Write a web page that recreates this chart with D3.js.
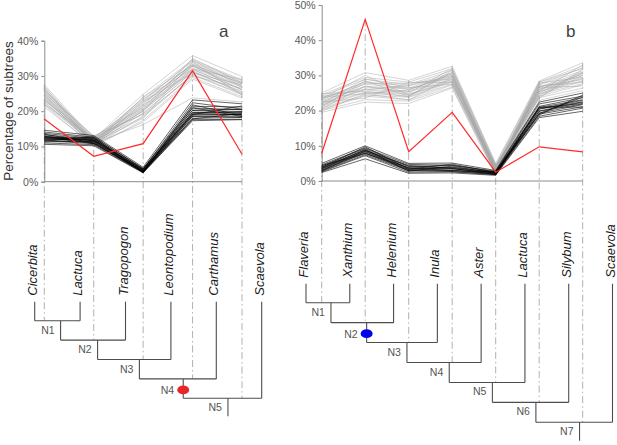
<!DOCTYPE html>
<html><head><meta charset="utf-8">
<script src="https://cdn.jsdelivr.net/npm/d3@7"></script>
<style>body{margin:0;background:#fff}svg{display:block}text{font-family:"Liberation Sans",Arial,sans-serif}</style>
</head><body><svg id="c" width="617" height="445"></svg>
<script>
// ---------- data ----------
const nodesA = ["N1","N2","N3","N4","N5"];
const leavesA = ["Cicerbita","Lactuca","Tragopogon","Leontopodium","Carthamus","Scaevola"];
const ticksA = [0,10,20,30,40];
const redA = [17.8,7.2,10.8,31.5,7.8];
const grayA = [
 [27.5,12.2,24.8,35.8,29.8],[26.9,11.4,23.9,34.6,28.9],[26.3,11.1,23.2,34.2,28.6],
 [25.9,11.7,22.4,33.4,27.8],[25.5,10.8,22.1,33.3,27.7],[25.2,11.4,21.5,32.7,27.3],
 [24.9,10.6,21.3,32.8,26.8],[24.6,11.9,20.7,32.2,26.9],[24.3,10.9,20.6,31.9,26.1],
 [24.0,11.3,20.1,31.8,26.2],[23.6,10.5,19.5,31.2,25.6],[23.2,12.5,19.3,31.1,25.4],
 [22.8,10.2,18.6,30.5,24.9],[22.4,11.6,18.3,30.3,24.7],[21.8,9.9,17.4,29.6,24.1],
 [21.2,10.4,16.9,29.1,23.7],[22.0,11.0,16.2,23.8,22.6],
 [26.0,12.8,21.0,33.0,28.0],[24.0,10.0,22.8,34.5,27.0],[25.0,13.0,19.0,30.0,26.5],
 [23.0,11.8,21.8,33.8,28.2],[26.5,10.3,20.3,31.5,25.0],[22.0,12.0,23.5,32.0,29.0],
 [24.4,11.0,18.0,34.0,24.5],[25.7,12.4,22.8,30.8,27.5],[23.4,10.7,24.0,33.0,26.0],
 [27.0,11.6,20.0,35.0,28.0]
];
const blackA = [
 [14.6,13.1,4.1,23.2,22.1],[14.1,12.6,3.8,21.4,21.2],[13.7,12.3,3.6,20.9,20.4],
 [13.3,12.0,3.4,20.3,20.5],[13.0,11.7,3.3,20.2,19.9],[12.8,11.6,3.2,19.7,19.6],
 [12.6,12.3,3.1,19.6,19.8],[12.4,11.4,3.0,19.3,19.2],[12.2,11.2,2.9,19.2,19.0],
 [12.0,11.9,2.9,18.9,19.1],[11.8,11.0,2.8,18.6,18.6],[11.6,10.8,2.7,18.5,18.3],
 [11.3,11.5,2.7,18.0,18.2],[11.0,10.5,2.6,17.6,17.7],[10.6,10.2,2.5,17.3,17.6],
 [12.5,11.8,3.5,22.4,20.6],
 [13.5,11.0,2.8,21.0,18.5],[11.5,12.8,3.6,19.0,21.5],[12.9,10.8,3.0,17.8,19.4],
 [12.1,12.5,2.6,21.8,18.8]
];

const nodesB = ["N1","N2","N3","N4","N5","N6","N7"];
const leavesB = ["Flaveria","Xanthium","Helenium","Inula","Aster","Lactuca","Silybum","Scaevola"];
const ticksB = [0,10,20,30,40,50];
const redB = [7.9,45.9,8.3,19.5,2.5,9.7,8.3];
const grayB = [
 [25.0,30.8,28.6,32.6,5.0,28.4,33.6],[24.5,29.4,28.1,31.9,4.6,28.1,32.7],
 [24.1,28.9,27.4,31.4,4.3,27.5,32.1],[23.6,27.9,27.1,30.7,4.0,27.3,31.3],
 [23.3,27.5,26.4,30.4,3.8,26.7,30.9],[22.8,26.9,26.1,29.7,3.6,26.6,30.2],
 [22.5,26.7,25.5,29.5,3.4,26.1,29.9],[22.2,26.1,25.3,28.9,3.2,25.9,29.3],
 [21.9,25.9,24.7,28.8,3.0,25.5,29.1],[21.6,25.3,24.6,28.2,2.8,25.4,28.5],
 [21.2,25.1,24.0,28.1,2.6,24.9,28.3],[20.8,24.4,23.8,27.5,2.4,24.7,27.6],
 [20.4,24.1,23.1,27.3,2.2,24.1,27.3],[20.0,23.1,22.7,26.7,2.0,23.7,26.4],
 [19.5,22.4,22.0,26.4,1.6,22.9,25.7],[23.0,28.3,26.0,30.0,3.5,26.0,30.5],
 [24.0,26.0,27.0,30.0,4.0,25.0,31.0],[21.0,28.5,24.0,31.5,3.0,27.0,28.0],
 [22.5,23.5,28.0,28.0,2.5,28.0,32.0],[20.5,27.0,25.0,32.0,4.5,24.0,30.0],
 [23.8,24.8,23.0,29.5,2.0,26.5,27.0],[22.0,29.0,26.5,27.5,3.5,25.5,33.0],
 [24.8,25.5,24.0,31.0,2.8,27.8,29.5],[21.4,27.8,27.8,29.0,4.2,23.5,31.8],
 [20.0,24.8,25.8,30.5,1.8,26.8,28.8],[23.4,30.0,24.4,28.5,3.2,24.4,30.7]
];
const blackB = [
 [5.0,10.0,5.0,5.1,3.0,22.4,25.0],[4.6,9.4,4.7,4.5,2.8,21.9,24.1],
 [4.3,9.2,4.2,4.4,2.6,21.2,23.7],[4.0,8.8,4.1,3.9,2.5,20.9,23.1],
 [3.8,8.7,3.7,3.8,2.4,20.5,22.9],[3.6,8.4,3.6,3.5,2.3,20.4,22.5],
 [3.4,8.3,3.3,3.5,2.2,19.9,22.4],[3.2,8.0,3.2,3.1,2.1,19.8,21.9],
 [3.0,7.9,3.0,3.0,2.0,19.3,21.7],[2.8,7.5,2.9,2.7,1.9,19.0,21.1],
 [2.6,7.2,2.5,2.6,1.8,18.4,20.7],[2.4,6.3,2.2,2.3,1.6,18.0,19.8],
 [3.5,9.0,2.8,4.2,2.2,21.0,21.0],[4.4,7.8,3.8,2.9,2.6,19.2,23.8],
 [2.9,8.6,4.4,3.6,1.8,20.8,22.0],[3.9,9.7,3.4,4.8,2.4,18.8,24.4]
];

// ---------- drawing ----------
const svg = d3.select("#c");
svg.append("rect").attr("width",617).attr("height",445).attr("fill","#fff");

function panel(cfg){
  const g = svg.append("g");
  const x = d3.scalePoint().domain(cfg.nodes).range(cfg.xr);
  const y = d3.scaleLinear().domain([0, d3.max(cfg.ticks)]).range(cfg.yr);
  const leafX = d3.scalePoint().domain(cfg.leaves).range(cfg.leafR);
  const levelY = d3.scalePoint().domain(cfg.nodes).range(cfg.levelR);

  const tree = [];
  cfg.nodes.forEach((n,i)=>{
    const left = i===0 ? leafX(cfg.leaves[0]) : tree[i-1].drop;
    const right = leafX(cfg.leaves[i+1]);
    tree.push({name:n, left, right, y: levelY(n), drop: left + 0.57*(right-left)});
  });
  const leafTop = levelY(cfg.nodes[0]) - 19;
  const step = levelY.step();

  cfg.nodes.forEach((n,i)=>{
    const all = cfg.gray.map(s=>s[i]).concat(cfg.black.map(s=>s[i]), [cfg.red[i]]);
    g.append("line").attr("x1",x(n)).attr("x2",x(n))
      .attr("y1", y(d3.max(all))).attr("y2", tree[i].y)
      .attr("stroke","#a8a8a8").attr("stroke-width",0.9)
      .attr("stroke-dasharray","7,3,1.5,3");
  });

  const ax = g.append("g").attr("transform",`translate(${cfg.xr[0]},0)`)
    .call(d3.axisLeft(y).tickValues(cfg.ticks).tickSize(3).tickFormat(d=>d+"%"));
  ax.select(".domain").attr("stroke","#8c8c8c");
  ax.selectAll(".tick line").attr("stroke","#8c8c8c");
  ax.selectAll(".tick text").attr("fill","#595959").attr("font-size","10.5px")
    .attr("font-family","Liberation Sans, Arial, sans-serif").attr("x",-6);
  g.append("line").attr("x1",cfg.xr[0]).attr("x2",cfg.xr[1]).attr("y1",y(0)).attr("y2",y(0))
    .attr("stroke","#8c8c8c").attr("stroke-width",1);

  const line = d3.line().x((d,i)=>x(cfg.nodes[i])).y(d=>y(d));
  g.append("g").selectAll("path").data(cfg.gray).join("path")
    .attr("d",line).attr("fill","none").attr("stroke","#a4a4a4")
    .attr("stroke-width",0.8).attr("stroke-opacity",0.6);
  g.append("g").selectAll("path").data(cfg.black).join("path")
    .attr("d",line).attr("fill","none").attr("stroke","#000")
    .attr("stroke-width",0.8).attr("stroke-opacity",0.75);
  g.append("path").attr("d",line(cfg.red)).attr("fill","none")
    .attr("stroke","#ff2a2a").attr("stroke-width",1.2);

  g.append("text").attr("x",cfg.tagX).attr("y",37).attr("font-size","17px")
    .attr("fill","#404040").text(cfg.tag);

  const tg = g.append("g").attr("stroke","#4d4d4d").attr("stroke-width",1.1).attr("fill","none");
  cfg.leaves.forEach((l,j)=>{
    const nodeIdx = j===0 ? 0 : j-1;
    tg.append("line").attr("x1",leafX(l)).attr("x2",leafX(l))
      .attr("y1",leafTop).attr("y2",tree[nodeIdx].y);
  });
  tree.forEach((t,i)=>{
    tg.append("line").attr("x1",t.left).attr("x2",t.right).attr("y1",t.y).attr("y2",t.y);
    const yEnd = i < tree.length-1 ? tree[i+1].y : t.y + step*0.92;
    tg.append("line").attr("x1",t.drop).attr("x2",t.drop).attr("y1",t.y).attr("y2",yEnd);
    const marked = t.name === cfg.mark;
    if (marked) {
      g.append("ellipse").attr("cx",t.drop).attr("cy",t.y+11).attr("rx",6).attr("ry",4.3)
        .attr("fill",cfg.markColor);
    }
    g.append("text").attr("x", marked ? t.drop-9 : t.drop-6)
      .attr("y", t.y + (marked ? 15 : 13)).attr("text-anchor","end")
      .attr("font-size","10.5px").attr("fill","#555").text(t.name);
  });
  cfg.leaves.forEach(l=>{
    g.append("text").attr("transform",`translate(${leafX(l)+2},${leafTop-6}) rotate(-90)`)
      .attr("font-size","13px").attr("font-style","italic").attr("fill","#1a1a1a").text(l);
  });
}

panel({nodes:nodesA, leaves:leavesA, ticks:ticksA, red:redA, gray:grayA, black:blackA,
  xr:[44.3,242], yr:[181.7,40.7], leafR:[34.7,261.7], levelR:[320.7,398.3],
  tag:"a", tagX:219, mark:"N4", markColor:"#e8262a"});
panel({nodes:nodesB, leaves:leavesB, ticks:ticksB, red:redB, gray:grayB, black:blackB,
  xr:[321.7,582.7], yr:[181,5], leafR:[306,612.5], levelR:[302.7,422.3],
  tag:"b", tagX:566, mark:"N2", markColor:"#0000ee"});

svg.append("text").attr("transform","translate(13,111) rotate(-90)")
  .attr("text-anchor","middle").attr("font-size","13.5px").attr("fill","#333")
  .text("Percentage of subtrees");
</script></body></html>
